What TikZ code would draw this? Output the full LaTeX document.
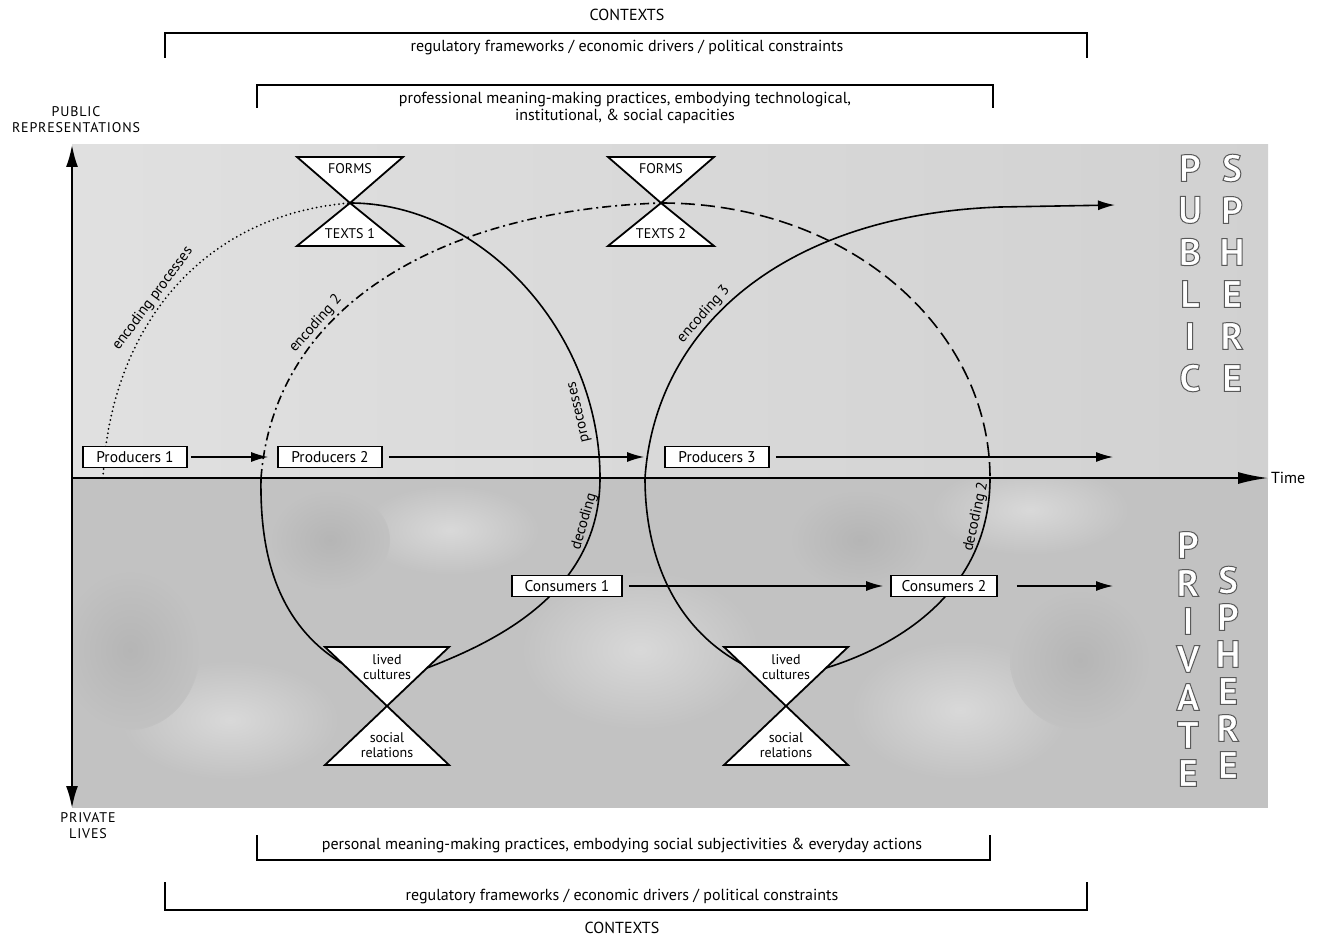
\documentclass[tikz,border=0pt]{standalone}
\usepackage{fontspec}
\setmainfont{PT Sans}
\usetikzlibrary{arrows.meta}
\tikzset{>={Latex[length=17pt,width=10pt]}}
\newcommand{\hollow}[1]{\special{pdf:code 2 Tr 1 w 0.35 G}#1\special{pdf:code 0 Tr}}
\tikzset{
  agentbox/.style={draw, line width=1.8pt, fill=white, minimum height=21pt, minimum width=104pt, inner sep=1pt, font=\fontsize{15.5}{17}\selectfont},
  glass/.style={draw, line width=1.8pt, fill=white, line join=miter},
  lbl/.style={font=\fontsize{16}{17.5}\selectfont, inner sep=2pt},
  glasslbl/.style={font=\fontsize{14}{15.5}\selectfont, inner sep=1pt},
  curvelbl/.style={font=\fontsize{15}{16}\selectfont, inner sep=2pt},
  flow/.style={line width=1.6pt},
  bigletter/.style={font=\fontsize{38}{40}\selectfont\bfseries, text=white, inner sep=0pt},
  bracketline/.style={line width=1.3pt},
  lightpatch/.style={inner color=gray!30, outer color=gray!48},
  darkpatch/.style={inner color=gray!58, outer color=gray!48},
}

\begin{document}
\begin{tikzpicture}[x=1pt, y=-1pt]
    \useasboundingbox (0,0) rectangle (1325,941);
    % public and private spheres
    \shade[left color=gray!24, right color=gray!36] (72,145) rectangle (1268,478);
    \fill[gray!48] (72,478) rectangle (1268,808);
    \begin{scope}
        \clip (72,478) rectangle (1268,808);
        \shade[lightpatch] (640,650) ellipse (120 and 80);
        \shade[lightpatch] (960,710) ellipse (110 and 70);
        \shade[lightpatch] (1030,510) ellipse (100 and 45);
        \shade[lightpatch] (230,720) ellipse (110 and 60);
        \shade[lightpatch] (450,530) ellipse (90 and 45);
        \shade[darkpatch] (130,650) ellipse (70 and 80);
        \shade[darkpatch] (1080,660) ellipse (70 and 70);
        \shade[darkpatch] (330,540) ellipse (60 and 50);
        \shade[darkpatch] (860,540) ellipse (70 and 50);
    \end{scope}

    % contexts, top
    \node[lbl] (ctxtop) at (627,15) {CONTEXTS};
    \draw[bracketline] (165,58) -- (165,33) -- (1087,33) -- (1087,58);
    \node[lbl] (regtop) at (627,48) {regulatory frameworks / economic drivers / political constraints};
    \draw[bracketline] (257,108) -- (257,85) -- (993,85) -- (993,108);
    \node[lbl, align=center] (prof) at (625,108) {professional meaning-making practices, embodying technological,\\institutional, \& social capacities};

    % axes
    \node[lbl, align=center, font=\fontsize{14}{16}\selectfont\addfontfeature{LetterSpace=6}] (pubrep) at (76,120) {PUBLIC\\REPRESENTATIONS};
    \node[lbl, align=center, font=\fontsize{14}{16}\selectfont\addfontfeature{LetterSpace=6}] (privlives) at (88,826) {PRIVATE\\LIVES};
    \draw[line width=2pt, {Latex[length=22pt,width=12pt]}-{Latex[length=22pt,width=12pt]}] (72,145) -- (72,808);
    \draw[line width=2pt, -{Latex[length=30pt,width=12pt]}] (72,478) -- (1268,478) node[lbl, right] (time) {Time};

    % circuits
    \coordinate (p1foot) at (103,478);
    \coordinate (glass1) at (350,203);
    \coordinate (glass2) at (661,203);
    \coordinate (dec1) at (600,478);
    \coordinate (enc2) at (261,478);
    \coordinate (dec2) at (990,478);
    \coordinate (enc3) at (645,478);
    \coordinate (lived1l) at (343,664);
    \coordinate (lived1r) at (427,668);
    \coordinate (lived2l) at (742,664);
    \coordinate (lived2r) at (826,668);
    \coordinate (enc3end) at (1115,205);

    \draw[flow, line width=2pt, line cap=round, dash pattern=on 0pt off 4.5pt] (p1foot) .. controls (110,330) and (200,215) .. (glass1) node[curvelbl, sloped, above, pos=.45] {encoding processes};
    \draw[flow] (glass1) .. controls (480,203) and (600,330) .. (dec1)
        .. controls (600,590) and (500,640) .. (lived1r) node[curvelbl, sloped, above, pos=.15] {decoding};
    \node[curvelbl, rotate=103] (proclbl) at (580,412) {processes};
    \draw[flow] (lived1l) .. controls (270,620) and (260,540) .. (enc2);
    \draw[flow, dash pattern=on 9pt off 4pt on 2pt off 4pt] (enc2) .. controls (275,300) and (450,210) .. (glass2) node[curvelbl, sloped, above, pos=.33] {encoding 2};
    \draw[flow, dash pattern=on 14pt off 6pt] (glass2) .. controls (850,203) and (990,330) .. (dec2);
    \draw[flow] (dec2) .. controls (990,590) and (900,645) .. (lived2r) node[curvelbl, sloped, above, pos=.13] {decoding 2};
    \draw[flow] (lived2l) .. controls (670,625) and (645,550) .. (enc3);
    \draw[flow, ->] (enc3) .. controls (655,330) and (780,215) .. (1000,207) node[curvelbl, sloped, above, pos=.4] {encoding 3} -- (enc3end);

    % forms and texts
    \foreach \cx/\n in {350/1, 661/2} {
        \draw[glass] (\cx-53,157) -- (\cx+53,157) -- (\cx,203) -- cycle;
        \draw[glass] (\cx,203) -- (\cx+53,246) -- (\cx-53,246) -- cycle;
        \node[glasslbl] (forms\n) at (\cx,169) {FORMS};
        \node[glasslbl] (texts\n) at (\cx,234) {TEXTS \n};
    }
    % lived cultures and social relations
    \foreach \cx/\n in {387/1, 786/2} {
        \draw[glass] (\cx-62,647) -- (\cx+62,647) -- (\cx,706) -- cycle;
        \draw[glass] (\cx,706) -- (\cx+62,765) -- (\cx-62,765) -- cycle;
        \node[glasslbl, align=center] (lived\n) at (\cx,667) {lived\\cultures};
        \node[glasslbl, align=center] (social\n) at (\cx,745) {social\\relations};
    }

    % producers and consumers
    \node[agentbox] (prod1) at (135,457) {Producers 1};
    \node[agentbox] (prod2) at (330,457) {Producers 2};
    \node[agentbox] (prod3) at (717,457) {Producers 3};
    \node[agentbox, minimum width=110pt] (cons1) at (567,586) {Consumers 1};
    \node[agentbox, minimum width=106pt] (cons2) at (944,586) {Consumers 2};
    \coordinate (prodend) at (1113,457);
    \coordinate (consend) at (1113,586);
    \draw[->, line width=1.3pt, shorten <=3pt, shorten >=9pt] (prod1.east) -- (prod2.west);
    \draw[->, line width=1.3pt, shorten <=6pt, shorten >=20pt] (prod2.east) -- (prod3.west);
    \draw[->, line width=1.3pt, shorten <=6pt] (prod3.east) -- (prodend);
    \draw[->, line width=1.3pt, shorten <=6pt, shorten >=7pt] (cons1.east) -- (cons2.west);
    \draw[->, line width=1.3pt, shorten <=19pt] (cons2.east) -- (consend);

    % sphere letters
    \foreach \ch [count=\i from 0] in {P,U,B,L,I,C}
        \node[bigletter] (pub\i) at (1190,168+42*\i) {\hollow{\ch}};
    \foreach \ch [count=\i from 0] in {S,P,H,E,R,E}
        \node[bigletter] (sph\i) at (1232,168+42*\i) {\hollow{\ch}};
    \foreach \ch [count=\i from 0] in {P,R,I,V,A,T,E}
        \node[bigletter] (priv\i) at (1188,545+38*\i) {\hollow{\ch}};
    \foreach \ch [count=\i from 0] in {S,P,H,E,R,E}
        \node[bigletter] (sphb\i) at (1228,580+37*\i) {\hollow{\ch}};

    % contexts, bottom
    \draw[bracketline] (257,835) -- (257,860) -- (990,860) -- (990,835);
    \node[lbl] (pers) at (622,845) {personal meaning-making practices, embodying social subjectivities \& everyday actions};
    \draw[bracketline] (165,882) -- (165,910) -- (1087,910) -- (1087,882);
    \node[lbl] (regbot) at (622,896) {regulatory frameworks / economic drivers / political constraints};
    \node[lbl] (ctxbot) at (622,928) {CONTEXTS};
\end{tikzpicture}
\end{document}
